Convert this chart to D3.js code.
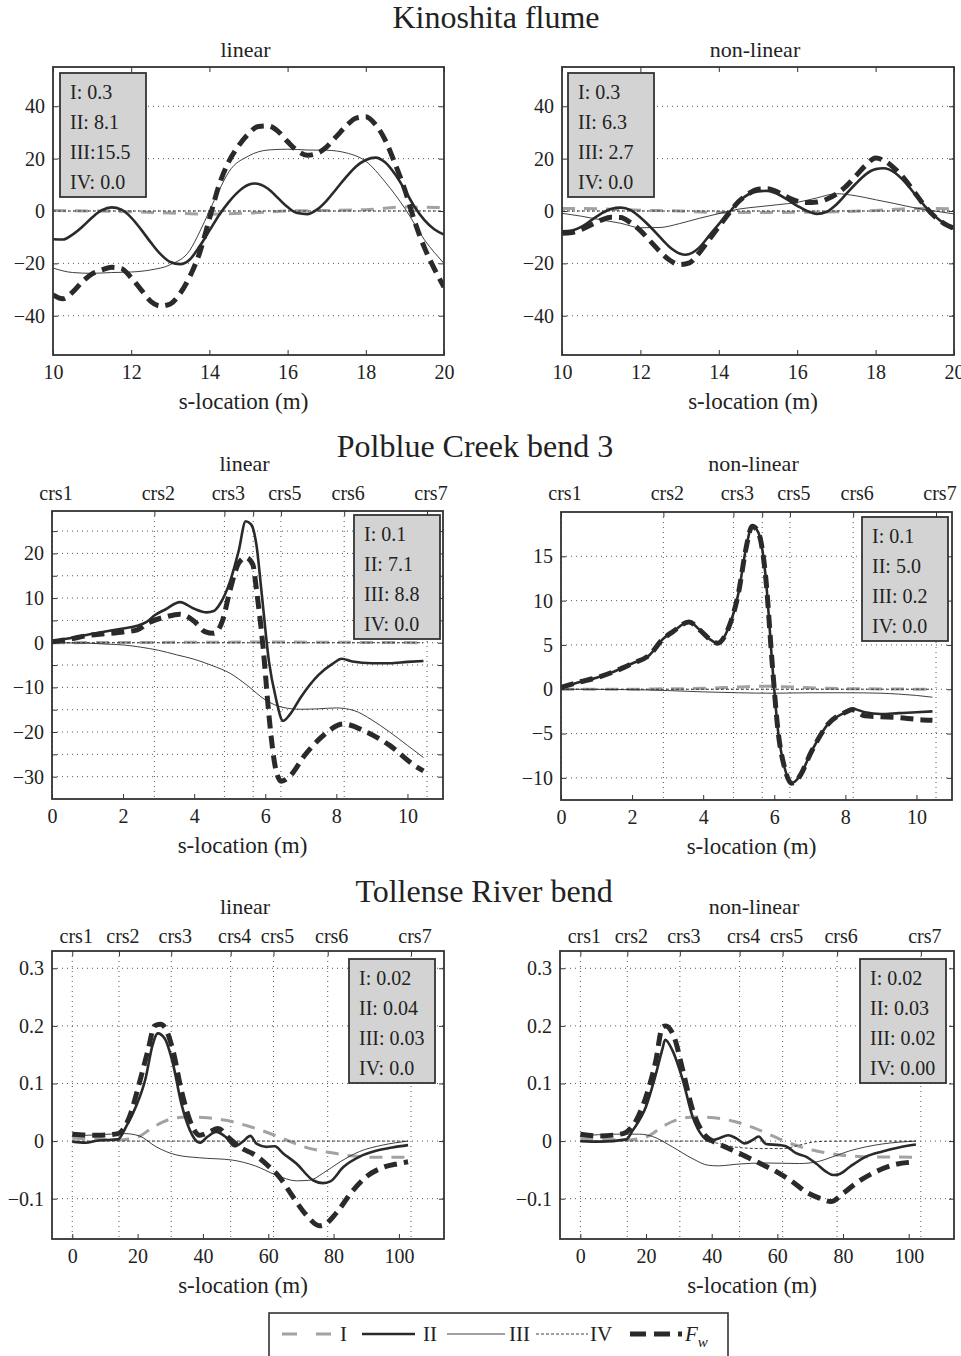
<!DOCTYPE html>
<html lang="en">
<head>
  <meta charset="UTF-8">
  <title>Secondary flow terms – Kinoshita, Polblue, Tollense</title>
  <style>
    body { margin: 0; background: #fff; }
    svg { display: block; font-family: "Liberation Serif", "Times New Roman", serif; }
    .grid line { stroke: #555; stroke-width: 1; stroke-dasharray: 1,4; }
    .frame { fill: none; stroke: #333; stroke-width: 1.8; }
    .axis path { display: none; }
    .axis line { stroke: #333; stroke-width: 1; }
    .axis text { fill: #222; }
    .info rect { fill: #d3d3d3; stroke: #333; stroke-width: 1.8; }
    text { fill: #222; }
  </style>
</head>
<body>
  <svg width="961" height="1356"></svg>
  <script src="https://d3js.org/d3.v7.min.js"></script>
  <script>
    // ---- Kinoshita flume ----
    const kinLinI = [[10,0.2],[11,0],[12,-0.3],[13,-0.8],[14,-1.2],[15,-0.8],[16,0],[17,0.2],[18,0.5],[19,1.5],[20,1.3]];
    const kinLinII = [[10,-10.8],[10.25,-10.9],[10.5,-9],[10.75,-6],[11,-2.5],[11.25,0.3],[11.5,1.4],[11.75,0.5],[12,-2.5],[12.25,-7],[12.5,-12],[12.75,-16.5],[13,-19.5],[13.25,-20.3],[13.5,-18.5],[13.75,-13.5],[14,-7.5],[14.25,-1.5],[14.5,3.5],[14.75,7.5],[15,10],[15.15,10.5],[15.5,8.5],[15.75,5],[16,1.5],[16.25,-0.8],[16.5,-1.2],[16.75,0.5],[17,4],[17.25,8.5],[17.5,13],[17.75,17],[18,19.5],[18.25,20.4],[18.5,18.5],[18.75,14],[19,8],[19.25,1.5],[19.5,-3.5],[19.75,-7],[20,-9]];
    const kinLinIII = [[10,-21.8],[10.5,-23.5],[11,-23.8],[11.5,-23.5],[12,-23.3],[12.5,-22.5],[13,-20.5],[13.5,-15],[13.75,-8],[14,0],[14.25,8],[14.5,15],[15,21],[15.5,23.3],[16,23.6],[16.5,23.3],[17,23.2],[17.5,22.2],[18,19],[18.5,11],[19,1],[19.5,-11],[20,-20]];
    const kinLinIV = [[10,0],[20,0]];
    const kinLinFw = [[10,-32],[10.25,-33.5],[10.5,-31],[10.75,-27],[11,-24],[11.25,-22.5],[11.5,-21.5],[11.75,-22],[12,-25.5],[12.25,-30],[12.5,-34.5],[12.75,-36.3],[13,-35.5],[13.25,-31.5],[13.5,-25],[13.75,-16],[14,-3],[14.25,10],[14.5,19],[14.75,25],[15,29.5],[15.25,32.3],[15.5,32.5],[15.75,30.5],[16,26.5],[16.25,23],[16.5,21.3],[16.75,22],[17,24.5],[17.25,28.5],[17.5,32.5],[17.75,35.5],[18,36],[18.25,33],[18.5,27],[18.75,18],[19,8],[19.25,-4],[19.5,-14],[19.75,-22],[20,-29]];
    const kinLinInfo = ["I: 0.3", "II: 8.1", "III:15.5", "IV: 0.0"];

    const kinNonI = [[10,1],[11,0.8],[12,0.3],[13,0],[14,-0.6],[15,-0.6],[16,-0.5],[17,-0.3],[18,0.2],[19,1],[20,0.8]];
    const kinNonII = [[10,-7.8],[10.25,-7.5],[10.5,-6],[10.75,-3.5],[11,-1],[11.25,0.8],[11.5,1.3],[11.75,0.3],[12,-2.5],[12.25,-6],[12.5,-10],[12.75,-13.8],[13,-16.2],[13.15,-16.7],[13.5,-14],[13.75,-9.5],[14,-5],[14.25,-0.8],[14.5,3.5],[14.75,6.3],[15,7.5],[15.25,7.7],[15.5,6.5],[15.75,4.3],[16,2],[16.25,0],[16.5,-1.1],[16.75,-0.3],[17,2.5],[17.25,6.5],[17.5,10.5],[17.75,14],[18,16],[18.2,16.3],[18.5,14.5],[18.75,11],[19,6.5],[19.25,2],[19.5,-1.8],[19.75,-4.8],[20,-6.8]];
    const kinNonIII = [[10,-0.9],[10.5,-2],[11,-3.4],[11.5,-4.7],[12,-6.4],[12.5,-6.3],[13,-4.8],[13.5,-2.8],[14,-1],[14.5,0.7],[15,1.6],[15.5,2.4],[16,3.3],[16.5,5],[17,6.6],[17.5,5.8],[18,4.3],[18.5,2.8],[19,1.2],[19.5,0],[20,-1.1]];
    const kinNonIV = [[10,0],[20,0]];
    const kinNonFw = [[10,-8.5],[10.25,-8.2],[10.5,-7],[10.75,-5.2],[11,-3.5],[11.25,-2.4],[11.5,-2.5],[11.75,-4.5],[12,-7.5],[12.25,-11.5],[12.5,-15.5],[12.75,-18.8],[13,-20.5],[13.25,-19.8],[13.5,-16],[13.75,-11],[14,-6],[14.25,-1],[14.5,3.5],[14.75,6.5],[15,8.3],[15.25,8.5],[15.5,7.2],[15.75,5.3],[16,3.8],[16.25,3.2],[16.5,3.4],[16.75,4.5],[17,6.5],[17.25,9.5],[17.5,13.5],[17.75,17.5],[18,20.2],[18.25,19],[18.5,16],[18.75,12],[19,7],[19.25,2],[19.5,-2],[19.75,-4.8],[20,-6.6]];
    const kinNonInfo = ["I: 0.3", "II: 6.3", "III: 2.7", "IV: 0.0"];

    // ---- Polblue Creek bend 3 ----
    const polLinI = [[0,0],[2,0.05],[4,0.1],[6,0.15],[8,0.1],[10.45,0]];
    const polLinII = [[0,0.3],[0.5,1],[1,1.8],[1.5,2.5],[2,3.2],[2.4,3.8],[2.65,4.6],[2.9,6.2],[3.2,7.5],[3.6,9.1],[4,7.6],[4.35,6.8],[4.55,7.1],[4.75,9],[5,13.5],[5.25,20.5],[5.45,27.2],[5.6,26.5],[5.75,22],[5.9,11],[6.1,-4],[6.3,-12.5],[6.5,-17.5],[6.7,-16],[7,-12.2],[7.5,-7.2],[7.9,-4.7],[8.15,-3.6],[8.45,-4.2],[9,-4.6],[9.5,-4.6],[10,-4.3],[10.45,-4.1]];
    const polLinIII = [[0,0],[0.5,-0.05],[1,-0.1],[1.5,-0.3],[2,-0.5],[2.5,-1],[3,-1.7],[3.5,-2.7],[4,-3.7],[4.5,-5.1],[5,-6.8],[5.5,-9.6],[6,-12.8],[6.5,-14.5],[7,-14.9],[7.5,-14.8],[8,-14.6],[8.5,-15.2],[9,-17.3],[9.5,-20],[10,-23],[10.45,-25.7]];
    const polLinIV = [[0,0],[10.45,0]];
    const polLinFw = [[0,0.2],[0.5,0.8],[1,1.6],[1.5,2],[2,2.4],[2.4,2.9],[2.75,4.6],[3.2,5.8],[3.6,6.4],[4,4.8],[4.3,2.5],[4.55,2.1],[4.8,5],[5,11.5],[5.25,17.8],[5.45,19.1],[5.65,17.5],[5.75,12],[5.95,-2],[6.1,-16],[6.3,-28.5],[6.45,-31],[6.7,-29.8],[7.1,-25.3],[7.6,-21],[8.2,-18.2],[8.8,-19.8],[9.5,-23],[10.2,-27.5],[10.45,-28.7]];
    const polLinInfo = ["I: 0.1", "II: 7.1", "III: 8.8", "IV: 0.0"];

    const polNonI = [[0,0],[2,0],[3,0.05],[4,0.1],[5,0.25],[5.8,0.35],[6.5,0.25],[7.5,0.1],[8.5,0.05],[10.45,0]];
    const polNonII = [[0,0.2],[0.5,0.8],[1,1.3],[1.5,2],[2,2.9],[2.5,3.9],[2.85,5.6],[3.15,6.5],[3.6,7.6],[3.9,6.7],[4.2,5.6],[4.4,5.2],[4.7,6.8],[5,11],[5.2,15.8],[5.38,18.4],[5.55,17.7],[5.75,13],[5.95,2.5],[6.1,-4.5],[6.3,-9],[6.48,-10.6],[6.7,-9.9],[7.05,-7],[7.5,-4],[8,-2.6],[8.2,-2.2],[8.55,-2.6],[9,-2.8],[9.5,-2.7],[10,-2.6],[10.45,-2.5]];
    const polNonIII = [[0,0],[2,-0.05],[3,-0.15],[4,-0.3],[5,-0.4],[6,-0.45],[7,-0.4],[8,-0.4],[9,-0.45],[9.5,-0.55],[10,-0.7],[10.45,-0.9]];
    const polNonIV = [[0,0],[10.45,0]];
    const polNonFw = [[0,0.2],[0.5,0.8],[1,1.3],[1.5,2],[2,2.9],[2.5,3.9],[2.85,5.6],[3.15,6.5],[3.6,7.6],[3.9,6.7],[4.2,5.6],[4.4,5.2],[4.7,6.8],[5,11],[5.2,15.8],[5.38,18.4],[5.55,17.7],[5.75,13],[5.95,2.5],[6.1,-4.5],[6.3,-9],[6.48,-10.6],[6.7,-9.9],[7.05,-7],[7.5,-4],[8,-2.6],[8.2,-2.3],[8.55,-3],[9,-3.1],[9.5,-3.2],[10,-3.4],[10.45,-3.5]];
    const polNonInfo = ["I: 0.1", "II: 5.0", "III: 0.2", "IV: 0.0"];

    const polCrs = [0, 2.88, 4.85, 5.66, 6.44, 8.22, 10.55];
    const polCrsLabels = ["crs1", "crs2", "crs3", "", "crs5", "crs6", "crs7"];

    // ---- Tollense River bend ----
    const tolLinI = [[0,0.005],[8,0.003],[14,0.002],[20,0.007],[25,0.025],[30,0.038],[35,0.042],[40,0.041],[47,0.036],[55,0.024],[63,0.008],[71,-0.01],[79,-0.02],[86,-0.026],[92,-0.028],[102.8,-0.028]];
    const tolLinII = [[0,-0.001],[4,-0.003],[8,0.001],[14,0.003],[16.5,0.025],[19.5,0.06],[22.5,0.11],[24.5,0.165],[26.2,0.187],[28.3,0.178],[30.8,0.135],[33.4,0.065],[36,0.019],[39,-0.003],[41.5,0.008],[44,0.016],[47,0.007],[49.7,-0.009],[52.2,-0.001],[54.5,0.009],[56.5,-0.005],[59.4,-0.01],[62,-0.009],[64.5,-0.021],[68.6,-0.039],[73.7,-0.068],[76.7,-0.073],[79,-0.07],[83,-0.045],[88,-0.027],[93,-0.017],[98,-0.011],[102.8,-0.007]];
    const tolLinIII = [[0,0.009],[8,0.011],[16,0.013],[20.5,0.009],[25.7,-0.01],[31.8,-0.024],[39,-0.029],[49,-0.033],[56,-0.043],[62.4,-0.059],[68.6,-0.069],[72.7,-0.068],[76.7,-0.056],[82,-0.036],[88,-0.018],[95,-0.007],[102.8,0]];
    const tolLinIV = [[0,0],[102.8,0]];
    const tolLinFw = [[0,0.012],[8,0.01],[14,0.013],[17.5,0.042],[20.5,0.1],[23.2,0.158],[25.2,0.2],[27,0.203],[28.5,0.196],[30.8,0.158],[33.4,0.088],[36,0.036],[39,0.01],[42,0.016],[44.6,0.022],[48,0.005],[52,-0.013],[55.3,-0.022],[59.4,-0.04],[63.5,-0.063],[67.6,-0.097],[71.6,-0.128],[75.7,-0.147],[77.2,-0.145],[80.8,-0.125],[85.9,-0.086],[90,-0.062],[95,-0.046],[100,-0.039],[102.8,-0.036]];
    const tolLinInfo = ["I: 0.02", "II: 0.04", "III: 0.03", "IV: 0.0"];

    const tolNonI = [[0,0.005],[8,0.003],[14,0.002],[20,0.007],[25,0.025],[30,0.038],[35,0.042],[40,0.041],[47,0.034],[55,0.018],[63,-0.002],[71,-0.016],[79,-0.024],[86,-0.027],[102.2,-0.028]];
    const tolNonII = [[0,0],[6,-0.001],[14,0.003],[16,0.019],[20,0.06],[22.5,0.106],[25,0.16],[25.8,0.176],[28,0.158],[31.2,0.106],[34.2,0.042],[37.3,0.008],[39.3,0],[42.3,0.005],[45,0.01],[47.4,0.005],[50,-0.004],[52.5,0.002],[54.3,0.008],[56.5,-0.005],[60.6,-0.007],[62.6,-0.009],[65.7,-0.021],[68.7,-0.027],[71.8,-0.039],[74.8,-0.053],[77,-0.059],[79,-0.057],[82,-0.045],[87,-0.027],[92,-0.018],[97,-0.011],[102.2,-0.006]];
    const tolNonIII = [[0,0.009],[11,0.012],[18,0.012],[22,0.008],[28,-0.01],[34,-0.03],[39,-0.042],[42,-0.043],[48,-0.04],[56,-0.038],[66.7,-0.039],[72,-0.036],[77,-0.027],[82,-0.017],[87,-0.01],[92,-0.005],[102.2,0]];
    const tolNonIV = [[0,0],[38,0],[42,-0.004],[48,-0.011],[55,-0.013],[62,-0.013],[66,-0.008],[72,-0.001],[80,0],[102.2,0]];
    const tolNonFw = [[0,0.012],[6,0.009],[13,0.013],[17,0.036],[20,0.077],[23,0.14],[25,0.198],[26,0.2],[28.6,0.18],[31.2,0.123],[34.2,0.054],[38.3,0.008],[42.3,-0.005],[46.4,-0.016],[50.5,-0.027],[54.5,-0.038],[60.6,-0.056],[64.7,-0.071],[68.7,-0.088],[72.8,-0.099],[76.3,-0.105],[80,-0.091],[84,-0.073],[89,-0.056],[95,-0.042],[102.2,-0.036]];
    const tolNonInfo = ["I: 0.02", "II: 0.03", "III: 0.02", "IV: 0.00"];

    const tolCrs = [0, 14.3, 30.3, 48.5, 61.6, 78.2, 103.7];
    const tolCrsLabels = ["crs1", "crs2", "crs3", "crs4", "crs5", "crs6", "crs7"];

    const seriesNames = ["I", "II", "III", "IV", "Fw"];

    const styles = {
      I:   { stroke: "#a2a2a2", width: 3,   dash: "13,9" },
      II:  { stroke: "#2a2a2a", width: 2.6, dash: null },
      III: { stroke: "#2a2a2a", width: 0.9, dash: null },
      IV:  { stroke: "#2a2a2a", width: 0.9, dash: "3,2" },
      Fw:  { stroke: "#2a2a2a", width: 5,   dash: "13,7" }
    };
    const drawOrder = ["I", "III", "IV", "II", "Fw"];

    const fmtInt = d3.format("d");
    const fmtTol = d => d === 0 ? "0" : d3.format(".1f")(d);

    const panels = [
      { id: 1, left: 53, top: 67, w: 391, h: 288, xDomain: [10, 20], yDomain: [-55, 55],
        xTicks: [10, 12, 14, 16, 18, 20], yTicks: [-40, -20, 0, 20, 40], yFmt: fmtInt,
        sub: "linear", subY: 57, data: [kinLinI, kinLinII, kinLinIII, kinLinIV, kinLinFw],
        info: kinLinInfo, infoX: 60, infoY: 73 },
      { id: 2, left: 562, top: 67, w: 392, h: 288, xDomain: [10, 20], yDomain: [-55, 55],
        xTicks: [10, 12, 14, 16, 18, 20], yTicks: [-40, -20, 0, 20, 40], yFmt: fmtInt,
        sub: "non-linear", subY: 57, data: [kinNonI, kinNonII, kinNonIII, kinNonIV, kinNonFw],
        info: kinNonInfo, infoX: 568, infoY: 73 },
      { id: 3, left: 52, top: 511, w: 391, h: 288, xDomain: [0, 11], yDomain: [-35, 29.5],
        xTicks: [0, 2, 4, 6, 8, 10], yTicks: d3.range(-30, 26, 5), yFmt: d => d % 10 === 0 ? fmtInt(d) : "",
        crs: polCrs, crsLabels: polCrsLabels, crsY: 500,
        sub: "linear", subY: 471, data: [polLinI, polLinII, polLinIII, polLinIV, polLinFw],
        info: polLinInfo, infoX: 354, infoY: 515 },
      { id: 4, left: 561, top: 512, w: 391, h: 288, xDomain: [0, 11], yDomain: [-12.5, 20],
        xTicks: [0, 2, 4, 6, 8, 10], yTicks: [-10, -5, 0, 5, 10, 15], yFmt: fmtInt,
        crs: polCrs, crsLabels: polCrsLabels, crsY: 500,
        sub: "non-linear", subY: 471, data: [polNonI, polNonII, polNonIII, polNonIV, polNonFw],
        info: polNonInfo, infoX: 862, infoY: 517 },
      { id: 5, left: 52, top: 951, w: 392, h: 288, xDomain: [-6.2, 113.8], yDomain: [-0.17, 0.33],
        xTicks: [0, 20, 40, 60, 80, 100], yTicks: [-0.1, 0, 0.1, 0.2, 0.3], yFmt: fmtTol,
        crs: tolCrs, crsLabels: tolCrsLabels, crsY: 943,
        sub: "linear", subY: 914, data: [tolLinI, tolLinII, tolLinIII, tolLinIV, tolLinFw],
        info: tolLinInfo, infoX: 349, infoY: 959 },
      { id: 6, left: 560, top: 951, w: 394, h: 288, xDomain: [-6.2, 113.8], yDomain: [-0.17, 0.33],
        xTicks: [0, 20, 40, 60, 80, 100], yTicks: [-0.1, 0, 0.1, 0.2, 0.3], yFmt: fmtTol,
        crs: tolCrs, crsLabels: tolCrsLabels, crsY: 943,
        sub: "non-linear", subY: 914, data: [tolNonI, tolNonII, tolNonIII, tolNonIV, tolNonFw],
        info: tolNonInfo, infoX: 860, infoY: 959 }
    ];

    const titles = [
      { text: "Kinoshita flume", x: 496, y: 28 },
      { text: "Polblue Creek bend 3", x: 475, y: 457 },
      { text: "Tollense River bend", x: 484, y: 902 }
    ];

    const svg = d3.select("svg");

    svg.selectAll("text.title")
      .data(titles)
      .join("text")
      .attr("class", "title")
      .attr("x", d => d.x)
      .attr("y", d => d.y)
      .attr("text-anchor", "middle")
      .attr("font-size", 32)
      .text(d => d.text);

    panels.forEach(drawPanel);
    drawLegend();

    function drawPanel(p) {
      const x = d3.scaleLinear().domain(p.xDomain).range([p.left, p.left + p.w]);
      const y = d3.scaleLinear().domain(p.yDomain).range([p.top + p.h, p.top]);
      const g = svg.append("g");

      g.append("clipPath").attr("id", "clip" + p.id)
        .append("rect")
        .attr("x", p.left).attr("y", p.top).attr("width", p.w).attr("height", p.h);

      // dotted grid
      const grid = g.append("g").attr("class", "grid");
      grid.selectAll("line.gy")
        .data(p.yTicks)
        .join("line")
        .attr("class", "gy")
        .attr("x1", p.left).attr("x2", p.left + p.w)
        .attr("y1", d => y(d)).attr("y2", d => y(d));
      if (p.crs) {
        grid.selectAll("line.gx")
          .data(p.crs)
          .join("line")
          .attr("class", "gx")
          .attr("x1", d => x(d)).attr("x2", d => x(d))
          .attr("y1", p.top).attr("y2", p.top + p.h);
      }

      // axes, ticks pointing inward
      const bottom = g.append("g").attr("class", "axis")
        .attr("transform", `translate(0,${p.top + p.h})`)
        .call(d3.axisBottom(x).tickValues(p.xTicks).tickFormat(fmtInt)
          .tickSizeInner(-5).tickSizeOuter(0).tickPadding(10));
      bottom.attr("font-size", 20).attr("font-family", null);

      g.append("g").attr("class", "axis")
        .attr("transform", `translate(0,${p.top})`)
        .call(d3.axisTop(x).tickValues(p.crs || p.xTicks).tickFormat("")
          .tickSizeInner(-5).tickSizeOuter(0));

      const left = g.append("g").attr("class", "axis")
        .attr("transform", `translate(${p.left},0)`)
        .call(d3.axisLeft(y).tickValues(p.yTicks).tickFormat(p.yFmt)
          .tickSizeInner(-5).tickSizeOuter(0).tickPadding(8));
      left.attr("font-size", 20).attr("font-family", null);

      g.append("g").attr("class", "axis")
        .attr("transform", `translate(${p.left + p.w},0)`)
        .call(d3.axisRight(y).tickValues(p.yTicks).tickFormat("")
          .tickSizeInner(-5).tickSizeOuter(0));

      // crs labels along the top
      if (p.crs) {
        g.selectAll("text.crs")
          .data(p.crs.map((c, i) => ({ c, label: p.crsLabels[i] })).filter(d => d.label))
          .join("text")
          .attr("class", "crs")
          .attr("x", d => x(d.c) + 4)
          .attr("y", p.crsY)
          .attr("text-anchor", "middle")
          .attr("font-size", 20)
          .text(d => d.label);
      }

      // series
      const line = d3.line()
        .x(d => x(d[0]))
        .y(d => y(d[1]))
        .curve(d3.curveMonotoneX);

      const lines = g.append("g").attr("clip-path", `url(#clip${p.id})`);
      drawOrder.forEach(name => {
        const s = styles[name];
        lines.append("path")
          .datum(p.data[seriesNames.indexOf(name)])
          .attr("d", line)
          .attr("fill", "none")
          .attr("stroke", s.stroke)
          .attr("stroke-width", s.width)
          .attr("stroke-dasharray", s.dash);
      });

      // frame
      g.append("rect").attr("class", "frame")
        .attr("x", p.left).attr("y", p.top).attr("width", p.w).attr("height", p.h);

      // info box
      const info = g.append("g").attr("class", "info");
      info.append("rect")
        .attr("x", p.infoX).attr("y", p.infoY).attr("width", 86).attr("height", 124);
      info.selectAll("text")
        .data(p.info)
        .join("text")
        .attr("x", p.infoX + 10)
        .attr("y", (d, i) => p.infoY + 26 + i * 30)
        .attr("font-size", 20)
        .text(d => d);

      // subtitle + x label
      g.append("text")
        .attr("x", p.left + p.w / 2 - 3).attr("y", p.subY)
        .attr("text-anchor", "middle").attr("font-size", 22)
        .text(p.sub);
      g.append("text")
        .attr("x", p.left + p.w / 2 - 5).attr("y", p.top + p.h + 54)
        .attr("text-anchor", "middle").attr("font-size", 23)
        .text("s-location (m)");
    }

    function drawLegend() {
      const lg = svg.append("g");
      lg.append("rect")
        .attr("x", 269).attr("y", 1313).attr("width", 459).attr("height", 60)
        .attr("fill", "#fff").attr("stroke", "#333").attr("stroke-width", 1.6);

      const ly = 1334;
      const items = [
        { name: "I",   x1: 282, x2: 331, tx: 340 },
        { name: "II",  x1: 362, x2: 415, tx: 423 },
        { name: "III", x1: 447, x2: 505, tx: 509 },
        { name: "IV",  x1: 536, x2: 588, tx: 590 },
        { name: "Fw",  x1: 630, x2: 682, tx: 685 }
      ];
      items.forEach(it => {
        const s = styles[it.name];
        const dash = it.name === "I" ? "15,19" : it.name === "Fw" ? "16,8" : s.dash;
        lg.append("line")
          .attr("x1", it.x1).attr("x2", it.x2).attr("y1", ly).attr("y2", ly)
          .attr("stroke", s.stroke).attr("stroke-width", s.width)
          .attr("stroke-dasharray", dash);
        const t = lg.append("text").attr("x", it.tx).attr("y", ly + 7).attr("font-size", 21);
        if (it.name === "Fw") {
          t.append("tspan").attr("font-style", "italic").text("F");
          t.append("tspan").attr("font-style", "italic").attr("font-size", 15).attr("dy", 6).text("w");
        } else {
          t.text(it.name);
        }
      });
    }
  </script>
</body>
</html>
